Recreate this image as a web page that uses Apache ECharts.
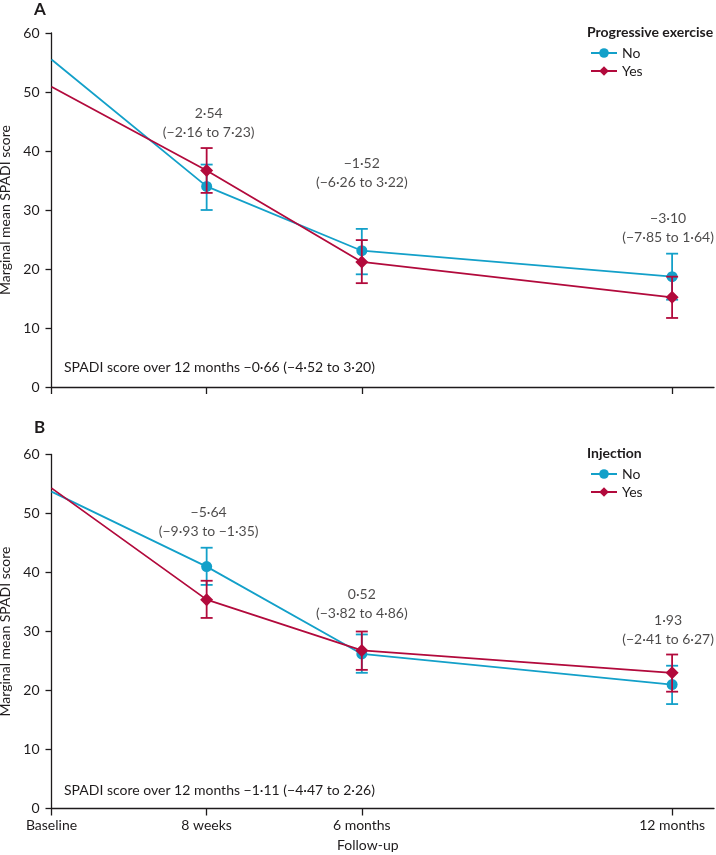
<!DOCTYPE html>
<html><head><meta charset="utf-8">
<script src="https://cdn.jsdelivr.net/npm/echarts@6/dist/echarts.min.js"></script>
<style>html,body{margin:0;padding:0;background:#fff}#c{width:716px;height:855px}</style>
</head><body><div id="c"></div>
<script>
// ---- data ----
const xPos = [0, 1, 2, 4];
const xLabels = ['Baseline', '8 weeks', '6 months', '12 months'];
const yTicks = [0, 10, 20, 30, 40, 50, 60];

// Panel A: progressive exercise
const aNoMean  = [55.5, 34.0, 23.1, 18.7];
const aNoLow   = [null, 30.0, 19.1, 14.8];
const aNoHigh  = [null, 37.7, 26.8, 22.6];
const aYesMean = [50.9, 36.7, 21.2, 15.2];
const aYesLow  = [null, 32.9, 17.6, 11.7];
const aYesHigh = [null, 40.5, 24.9, 18.7];
const aDiff = ['2·54', '−1·52', '−3·10'];
const aCI   = ['(−2·16 to 7·23)', '(−6·26 to 3·22)', '(−7·85 to 1·64)'];
const aOverall = 'SPADI score over 12 months −0·66 (−4·52 to 3·20)';

// Panel B: injection
const bNoMean  = [53.7, 41.0, 26.2, 21.0];
const bNoLow   = [null, 37.9, 23.0, 17.7];
const bNoHigh  = [null, 44.2, 29.5, 24.2];
const bYesMean = [54.3, 35.4, 26.8, 23.0];
const bYesLow  = [null, 32.3, 23.5, 19.8];
const bYesHigh = [null, 38.6, 30.0, 26.1];
const bDiff = ['−5·64', '0·52', '1·93'];
const bCI   = ['(−9·93 to −1·35)', '(−3·82 to 4·86)', '(−2·41 to 6·27)'];
const bOverall = 'SPADI score over 12 months −1·11 (−4·47 to 2·26)';

// ---- style ----
const BLUE = '#13a0c9', RED = '#b20a3c', TXT = '#1e1b1c';
const FONT = 'Lato';
const FS = 14;
// layout only: annotation vertical anchor (in axis units) for each follow-up
const annAY = [44.8, 36.3, 26.9];
const annBY = [48.6, 34.7, 30.2];
const annDX = [2, 0, -4];

function lineData(mean) {
  return mean.map((v, i) => ({ value: [xPos[i], v], symbol: i === 0 ? 'none' : undefined }));
}
function errData(low, high) {
  const out = [];
  low.forEach((l, i) => { if (l != null) out.push([xPos[i], l, high[i]]); });
  return out;
}
function errSeries(idx, low, high, color, z) {
  return {
    type: 'custom', xAxisIndex: idx, yAxisIndex: idx, z: z, silent: true,
    data: errData(low, high),
    encode: { x: 0, y: [1, 2] },
    renderItem: function (params, api) {
      const x = api.value(0);
      const p1 = api.coord([x, api.value(1)]);
      const p2 = api.coord([x, api.value(2)]);
      const w = 6;
      const st = { stroke: color, lineWidth: 1.8 };
      return { type: 'group', children: [
        { type: 'line', shape: { x1: p1[0], y1: p1[1], x2: p2[0], y2: p2[1] }, style: st },
        { type: 'line', shape: { x1: p1[0] - w, y1: p1[1], x2: p1[0] + w, y2: p1[1] }, style: st },
        { type: 'line', shape: { x1: p2[0] - w, y1: p2[1], x2: p2[0] + w, y2: p2[1] }, style: st }
      ]};
    }
  };
}
function lineSeries(idx, name, mean, color, symbol, size, z) {
  return {
    type: 'line', name: name, xAxisIndex: idx, yAxisIndex: idx, z: z,
    data: lineData(mean), symbol: symbol, symbolSize: size, showSymbol: true,
    lineStyle: { color: color, width: 1.8 }, itemStyle: { color: color },
    emphasis: { disabled: true }, animation: false
  };
}
function annSeries(idx, diff, ci, ys) {
  return {
    type: 'scatter', xAxisIndex: idx, yAxisIndex: idx, symbolSize: 0, silent: true, z: 10,
    data: diff.map((d, i) => ({ value: [xPos[i + 1], ys[i]], d: d, c: ci[i] })),
    label: {
      show: true, position: 'inside',
      formatter: p => p.data.d + '\n' + p.data.c,
      fontFamily: FONT, fontSize: FS, color: TXT, lineHeight: 19, align: 'center'
    },
    labelLayout: function (p) { return { dx: annDX[p.dataIndex] }; }
  };
}
function xAxisCfg(idx, showLabels) {
  return {
    type: 'value', gridIndex: idx, min: 0, max: 4.27, interval: 1,
    splitLine: { show: false },
    axisLine: { lineStyle: { color: TXT, width: 1.3 } },
    axisTick: { show: true, length: 7, customValues: xPos, lineStyle: { color: TXT, width: 1.3 } },
    axisLabel: {
      show: showLabels, customValues: xPos, margin: 10,
      formatter: v => xLabels[xPos.indexOf(v)] || '',
      fontFamily: FONT, fontSize: FS, color: TXT
    }
  };
}
function yAxisCfg(idx) {
  return {
    type: 'value', gridIndex: idx, min: 0, max: 60, interval: 10,
    name: 'Marginal mean SPADI score', nameLocation: 'middle', nameGap: 37,
    nameTextStyle: { fontFamily: FONT, fontSize: FS, color: TXT },
    splitLine: { show: false },
    axisLine: { show: true, lineStyle: { color: TXT, width: 1.3 } },
    axisTick: { show: true, length: 6, lineStyle: { color: TXT, width: 1.3 } },
    axisLabel: { margin: 12, fontFamily: FONT, fontSize: FS, color: TXT,
      formatter: v => yTicks.indexOf(v) >= 0 ? String(v) : '' }
  };
}
const chart = echarts.init(document.getElementById('c'), null, { renderer: 'canvas' });
const txt = (x, y, s, opts) => ({ type: 'text', left: x, top: y, style: Object.assign({ text: s, fontFamily: FONT, fontSize: FS, fill: TXT }, opts || {}) });
chart.setOption({
  animation: false,
  grid: [
    { left: 51.5, right: 2, top: 33, height: 354, containLabel: false, outerBoundsMode: 'none' },
    { left: 51.5, right: 2, top: 454.5, height: 354, containLabel: false, outerBoundsMode: 'none' }
  ],
  xAxis: [xAxisCfg(0, false), xAxisCfg(1, true)],
  yAxis: [yAxisCfg(0), yAxisCfg(1)],
  legend: [
    { left: 585, top: 41, orient: 'vertical', itemGap: 4, itemWidth: 26, itemHeight: 12,
      data: ['No', 'Yes'], textStyle: { fontFamily: FONT, fontSize: FS, color: TXT }, selectedMode: false },
    { left: 585, top: 462, orient: 'vertical', itemGap: 4, itemWidth: 26, itemHeight: 12,
      data: ['No', 'Yes'], textStyle: { fontFamily: FONT, fontSize: FS, color: TXT }, selectedMode: false }
  ],
  graphic: [
    txt(34, 1, 'A', { fontSize: 17, fontWeight: 'bold' }),
    txt(34, 419, 'B', { fontSize: 17, fontWeight: 'bold' }),
    txt(587, 25, 'Progressive exercise', { fontWeight: 'bold' }),
    txt(587, 446, 'Injection', { fontWeight: 'bold' }),
    txt(64, 360, aOverall),
    txt(64, 783, bOverall),
    txt(337, 838, 'Follow-up')
  ],
  series: [
    lineSeries(0, 'No', aNoMean, BLUE, 'circle', 11, 3),
    errSeries(0, aNoLow, aNoHigh, BLUE, 2),
    lineSeries(0, 'Yes', aYesMean, RED, 'diamond', 13, 5),
    errSeries(0, aYesLow, aYesHigh, RED, 4),
    annSeries(0, aDiff, aCI, annAY),
    lineSeries(1, 'No', bNoMean, BLUE, 'circle', 11, 3),
    errSeries(1, bNoLow, bNoHigh, BLUE, 2),
    lineSeries(1, 'Yes', bYesMean, RED, 'diamond', 13, 5),
    errSeries(1, bYesLow, bYesHigh, RED, 4),
    annSeries(1, bDiff, bCI, annBY)
  ]
});
</script></body></html>
